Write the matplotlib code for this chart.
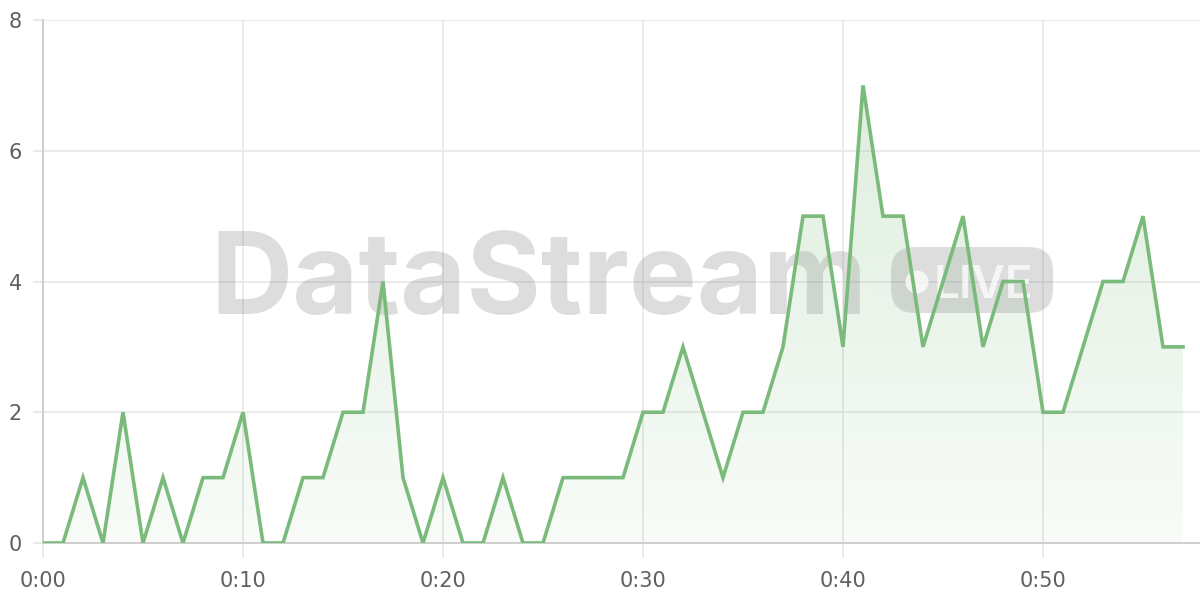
import numpy as np
import matplotlib
matplotlib.use("Agg")
import matplotlib.pyplot as plt
from matplotlib.patches import FancyBboxPatch, Circle
from matplotlib.transforms import IdentityTransform

# ---- data ----
values = [0, 0, 1, 0, 2, 0, 1, 0, 1, 1, 2, 0, 0, 1, 1, 2, 2, 4, 1, 0,
          1, 0, 0, 1, 0, 0, 1, 1, 1, 1, 2, 2, 3, 2, 1, 2, 2, 3, 5, 5,
          3, 7, 5, 5, 3, 4, 5, 3, 4, 4, 2, 2, 3, 4, 4, 5, 3, 3]
x_ticks = [0, 10, 20, 30, 40, 50]
x_tick_labels = ["0:00", "0:10", "0:20", "0:30", "0:40", "0:50"]
y_ticks = [0, 2, 4, 6, 8]
y_tick_labels = ["0", "2", "4", "6", "8"]
watermark = "DataStream"
badge_text = "LIVE"

line_color = "#7aba7a"
grid_color = "#e6e6e6"
label_color = "#606060"

W, H = 1200, 600
fig = plt.figure(figsize=(W / 100, H / 100), dpi=100)
ax_left, ax_right, ax_top, ax_bottom = 43, 1200, 20, 543
ax = fig.add_axes([ax_left / W, 1 - ax_bottom / H, (ax_right - ax_left) / W, (ax_bottom - ax_top) / H])

x = np.arange(len(values))
xmax = (len(values) - 1) * (ax_right - ax_left) / (1183 - ax_left)
ax.set_xlim(0, xmax)
ax.set_ylim(0, 8)

# gradient fill
poly = ax.fill_between(x, values, 0, color="none", lw=0)
grad = np.zeros((256, 1, 4))
rgb = matplotlib.colors.to_rgb(line_color)
grad[:, 0, 0:3] = rgb
grad[:, 0, 3] = np.linspace(0.28, 0.05, 256)
im = ax.imshow(grad, extent=[0, x[-1], 0, 8], origin="upper", aspect="auto", zorder=1)
path = poly.get_paths()[0]
im.set_clip_path(path, transform=ax.transData)

ax.plot(x, values, color=line_color, lw=2.6, zorder=5, solid_joinstyle="miter")

# grid and axes styling
ax.set_xticks(x_ticks)
ax.set_xticklabels(x_tick_labels)
ax.set_yticks(y_ticks)
ax.set_yticklabels(y_tick_labels)
ax.grid(True, color=grid_color, lw=1.2, zorder=0)
ax.set_axisbelow(True)
for s in ["top", "right"]:
    ax.spines[s].set_visible(False)
for s in ["left", "bottom"]:
    ax.spines[s].set_color("#cccccc")
    ax.spines[s].set_linewidth(1.3)
ax.tick_params(axis="x", length=11, width=1.2, color=grid_color, pad=9,
               labelsize=15, labelcolor=label_color)
ax.tick_params(axis="y", length=7, width=1.2, color=grid_color, pad=8,
               labelsize=15, labelcolor=label_color)
for lab in ax.get_xticklabels() + ax.get_yticklabels():
    lab.set_family("DejaVu Sans")

# watermark in pixel coordinates (origin top-left converted)
def py(v):
    return H - v

px_tr = IdentityTransform()
wm_color = "#888888"
ax.text(210, py(314), watermark, fontsize=82, fontweight="bold", family="Inter",
        color=wm_color, alpha=0.28, ha="left", va="baseline", zorder=3,
        transform=px_tr, clip_on=False)
badge = FancyBboxPatch((891, py(313)), 1053 - 891, 313 - 247,
                       boxstyle="round,pad=0,rounding_size=24", transform=px_tr,
                       facecolor=wm_color, edgecolor="none", alpha=0.28, zorder=3,
                       clip_on=False)
ax.add_patch(badge)
ax.add_patch(Circle((917, py(282)), 11.5, transform=px_tr, facecolor="white",
                    edgecolor="none", alpha=0.75, zorder=4, clip_on=False))
ax.text(934, py(298), badge_text, fontsize=33, family="Inter", fontweight="semibold",
        color="white", alpha=0.75, ha="left", va="baseline", zorder=4,
        transform=px_tr, clip_on=False)

fig.savefig("out.png", dpi=100)
